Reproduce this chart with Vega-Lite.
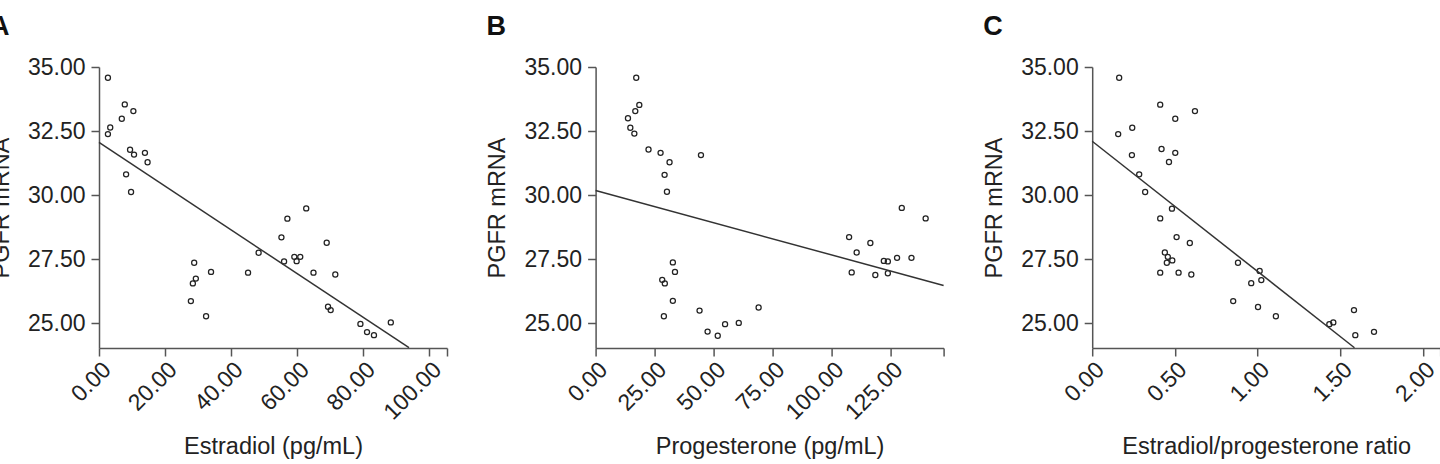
{
  "$schema": "https://vega.github.io/schema/vega-lite/v6.json",
  "padding": {"left": -12, "top": 13, "right": 0, "bottom": 0},
  "background": "white",
  "bounds": "flush",
  "spacing": 148.6,
  "config": {
    "font": "Liberation Sans",
    "view": {"stroke": null},
    "axis": {
      "grid": false,
      "domainColor": "#555",
      "tickColor": "#555",
      "domainWidth": 1.5,
      "tickWidth": 1.5,
      "tickSize": 8,
      "labelFont": "Liberation Sans",
      "labelFontSize": 23,
      "labelColor": "#222",
      "titleFont": "Liberation Sans",
      "titleFontSize": 23.5,
      "titleFontWeight": "normal",
      "titleColor": "#222",
      "labelOverlap": false,
      "labelBound": false,
      "labelFlush": false
    },
    "axisX": {"titleY": 105.7, "titleBaseline": "alphabetic"},
    "axisY": {"titleX": -91, "titleBaseline": "alphabetic", "labelPadding": 6},
    "title": {"font": "Liberation Sans", "fontSize": 27, "fontWeight": "bold", "color": "#111", "anchor": "start", "frame": "group"}
  },
  "datasets": {
    "A": [
      {"e2": 2.7, "pgfr": 34.58}, {"e2": 3.4, "pgfr": 32.64}, {"e2": 2.7, "pgfr": 32.38}, {"e2": 7.8, "pgfr": 33.54},
      {"e2": 6.9, "pgfr": 32.98}, {"e2": 10.4, "pgfr": 33.28}, {"e2": 9.4, "pgfr": 31.77}, {"e2": 10.6, "pgfr": 31.58},
      {"e2": 13.9, "pgfr": 31.65}, {"e2": 14.7, "pgfr": 31.28}, {"e2": 8.2, "pgfr": 30.81}, {"e2": 9.7, "pgfr": 30.12},
      {"e2": 62.7, "pgfr": 29.48}, {"e2": 57.0, "pgfr": 29.08}, {"e2": 55.2, "pgfr": 28.35}, {"e2": 68.9, "pgfr": 28.14},
      {"e2": 48.3, "pgfr": 27.75}, {"e2": 59.1, "pgfr": 27.59}, {"e2": 60.9, "pgfr": 27.59}, {"e2": 59.8, "pgfr": 27.42},
      {"e2": 56.0, "pgfr": 27.41}, {"e2": 28.8, "pgfr": 27.36}, {"e2": 33.9, "pgfr": 27.0}, {"e2": 45.1, "pgfr": 26.97},
      {"e2": 64.9, "pgfr": 26.97}, {"e2": 71.5, "pgfr": 26.90}, {"e2": 29.3, "pgfr": 26.74}, {"e2": 28.4, "pgfr": 26.55},
      {"e2": 27.8, "pgfr": 25.86}, {"e2": 32.4, "pgfr": 25.27}, {"e2": 69.3, "pgfr": 25.64}, {"e2": 70.1, "pgfr": 25.51},
      {"e2": 79.1, "pgfr": 24.97}, {"e2": 81.1, "pgfr": 24.65}, {"e2": 83.2, "pgfr": 24.53}, {"e2": 88.3, "pgfr": 25.03}
    ],
    "lineA": [{"e2": 0, "pgfr": 32.06}, {"e2": 93.8, "pgfr": 24.04}],
    "B": [
      {"p4": 17.2, "pgfr": 34.58}, {"p4": 18.5, "pgfr": 33.52}, {"p4": 16.8, "pgfr": 33.28}, {"p4": 13.7, "pgfr": 33.0},
      {"p4": 14.7, "pgfr": 32.63}, {"p4": 16.4, "pgfr": 32.40}, {"p4": 22.4, "pgfr": 31.78}, {"p4": 27.5, "pgfr": 31.65},
      {"p4": 44.6, "pgfr": 31.56}, {"p4": 31.3, "pgfr": 31.28}, {"p4": 29.2, "pgfr": 30.79}, {"p4": 30.2, "pgfr": 30.13},
      {"p4": 129.6, "pgfr": 29.5}, {"p4": 139.7, "pgfr": 29.09}, {"p4": 107.3, "pgfr": 28.36}, {"p4": 116.3, "pgfr": 28.13},
      {"p4": 110.5, "pgfr": 27.76}, {"p4": 127.6, "pgfr": 27.55}, {"p4": 133.7, "pgfr": 27.55}, {"p4": 122.0, "pgfr": 27.43},
      {"p4": 123.7, "pgfr": 27.41}, {"p4": 32.7, "pgfr": 27.37}, {"p4": 33.6, "pgfr": 27.0}, {"p4": 108.4, "pgfr": 26.98},
      {"p4": 123.7, "pgfr": 26.95}, {"p4": 118.4, "pgfr": 26.88}, {"p4": 28.2, "pgfr": 26.69}, {"p4": 29.3, "pgfr": 26.55},
      {"p4": 32.7, "pgfr": 25.87}, {"p4": 69.0, "pgfr": 25.61}, {"p4": 44.0, "pgfr": 25.49}, {"p4": 28.9, "pgfr": 25.27},
      {"p4": 60.6, "pgfr": 25.01}, {"p4": 54.8, "pgfr": 24.96}, {"p4": 47.4, "pgfr": 24.67}, {"p4": 51.7, "pgfr": 24.51}
    ],
    "lineB": [{"p4": 0, "pgfr": 30.18}, {"p4": 147.3, "pgfr": 26.47}],
    "C": [
      {"ratio": 0.163, "pgfr": 34.58}, {"ratio": 0.411, "pgfr": 33.53}, {"ratio": 0.621, "pgfr": 33.28}, {"ratio": 0.502, "pgfr": 32.98},
      {"ratio": 0.242, "pgfr": 32.63}, {"ratio": 0.157, "pgfr": 32.38}, {"ratio": 0.419, "pgfr": 31.80}, {"ratio": 0.502, "pgfr": 31.65},
      {"ratio": 0.240, "pgfr": 31.56}, {"ratio": 0.464, "pgfr": 31.29}, {"ratio": 0.284, "pgfr": 30.81}, {"ratio": 0.320, "pgfr": 30.12},
      {"ratio": 0.482, "pgfr": 29.47}, {"ratio": 0.411, "pgfr": 29.09}, {"ratio": 0.510, "pgfr": 28.36}, {"ratio": 0.590, "pgfr": 28.13},
      {"ratio": 0.439, "pgfr": 27.76}, {"ratio": 0.457, "pgfr": 27.59}, {"ratio": 0.484, "pgfr": 27.45}, {"ratio": 0.451, "pgfr": 27.36},
      {"ratio": 0.881, "pgfr": 27.36}, {"ratio": 0.411, "pgfr": 26.97}, {"ratio": 0.522, "pgfr": 26.97}, {"ratio": 0.599, "pgfr": 26.90},
      {"ratio": 1.012, "pgfr": 27.04}, {"ratio": 1.022, "pgfr": 26.68}, {"ratio": 0.961, "pgfr": 26.56}, {"ratio": 0.852, "pgfr": 25.86},
      {"ratio": 1.002, "pgfr": 25.63}, {"ratio": 1.110, "pgfr": 25.27}, {"ratio": 1.582, "pgfr": 25.51}, {"ratio": 1.433, "pgfr": 24.96},
      {"ratio": 1.457, "pgfr": 25.03}, {"ratio": 1.590, "pgfr": 24.53}, {"ratio": 1.703, "pgfr": 24.66}
    ],
    "lineC": [{"ratio": 0, "pgfr": 32.10}, {"ratio": 1.585, "pgfr": 24.04}]
  },
  "hconcat": [
    {
      "width": 348, "height": 281,
      "title": {"text": "A", "dx": -109, "offset": -6, "baseline": "alphabetic"},
      "encoding": {
        "x": {"field": "e2", "type": "quantitative", "title": "Estradiol (pg/mL)",
          "scale": {"domain": [0, 105.3], "nice": false, "zero": false},
          "axis": {"values": [0, 20, 40, 60, 80, 100, 105.3], "labelAngle": -45, "labelExpr": "datum.value > 101 ? '' : format(datum.value, '.2f')"}},
        "y": {"field": "pgfr", "type": "quantitative", "title": "PGFR mRNA",
          "scale": {"domain": [24.03, 35], "nice": false, "zero": false},
          "axis": {"values": [25, 27.5, 30, 32.5, 35], "format": ".2f"}}
      },
      "layer": [
        {"data": {"values": [{}]}, "mark": {"type": "rule", "color": "#555", "strokeWidth": 1.5},
          "encoding": {"x": {"datum": -2.7}, "x2": {"datum": 0}, "y": {"datum": 24.03}}},
        {"data": {"name": "A"}, "mark": {"type": "point", "shape": "circle", "filled": false, "size": 26, "strokeWidth": 1.25, "color": "#222", "opacity": 1}},
        {"data": {"name": "lineA"}, "mark": {"type": "line", "color": "#333", "strokeWidth": 1.5}},
        {"data": {"values": [{"label": "r"}]}, "mark": {"type": "text", "fontStyle": "italic", "fontSize": 22, "align": "left", "baseline": "middle", "color": "#222"},
          "encoding": {"x": {"datum": 64.9}, "y": {"datum": 33.66}, "text": {"field": "label"}}},
        {"data": {"values": [{"label": "= −0.782"}]}, "mark": {"type": "text", "fontSize": 22, "align": "left", "baseline": "middle", "dx": 14, "color": "#222"},
          "encoding": {"x": {"datum": 64.9}, "y": {"datum": 33.66}, "text": {"field": "label"}}}
      ]
    },
    {
      "width": 348, "height": 281,
      "title": {"text": "B", "dx": -109, "offset": -6, "baseline": "alphabetic"},
      "encoding": {
        "x": {"field": "p4", "type": "quantitative", "title": "Progesterone (pg/mL)",
          "scale": {"domain": [0, 147.3], "nice": false, "zero": false},
          "axis": {"values": [0, 25, 50, 75, 100, 125, 147.3], "labelAngle": -45, "labelExpr": "datum.value > 130 ? '' : format(datum.value, '.2f')"}},
        "y": {"field": "pgfr", "type": "quantitative", "title": "PGFR mRNA",
          "scale": {"domain": [24.03, 35], "nice": false, "zero": false},
          "axis": {"values": [25, 27.5, 30, 32.5, 35], "format": ".2f"}}
      },
      "layer": [
        {"data": {"values": [{}]}, "mark": {"type": "rule", "color": "#555", "strokeWidth": 1.5},
          "encoding": {"x": {"datum": -3.8}, "x2": {"datum": 0}, "y": {"datum": 24.03}}},
        {"data": {"name": "B"}, "mark": {"type": "point", "shape": "circle", "filled": false, "size": 26, "strokeWidth": 1.25, "color": "#222", "opacity": 1}},
        {"data": {"name": "lineB"}, "mark": {"type": "line", "color": "#333", "strokeWidth": 1.5}},
        {"data": {"values": [{"label": "r"}]}, "mark": {"type": "text", "fontStyle": "italic", "fontSize": 22, "align": "left", "baseline": "middle", "color": "#222"},
          "encoding": {"x": {"datum": 90.6}, "y": {"datum": 33.66}, "text": {"field": "label"}}},
        {"data": {"values": [{"label": "= −0.430"}]}, "mark": {"type": "text", "fontSize": 22, "align": "left", "baseline": "middle", "dx": 14, "color": "#222"},
          "encoding": {"x": {"datum": 90.6}, "y": {"datum": 33.66}, "text": {"field": "label"}}}
      ]
    },
    {
      "width": 348, "height": 281,
      "title": {"text": "C", "dx": -109, "offset": -6, "baseline": "alphabetic"},
      "encoding": {
        "x": {"field": "ratio", "type": "quantitative", "title": "Estradiol/progesterone ratio",
          "scale": {"domain": [0, 2.103], "nice": false, "zero": false},
          "axis": {"values": [0, 0.5, 1, 1.5, 2, 2.103], "labelAngle": -45, "labelExpr": "datum.value > 2.05 ? '' : format(datum.value, '.2f')"}},
        "y": {"field": "pgfr", "type": "quantitative", "title": "PGFR mRNA",
          "scale": {"domain": [24.03, 35], "nice": false, "zero": false},
          "axis": {"values": [25, 27.5, 30, 32.5, 35], "format": ".2f"}}
      },
      "layer": [
        {"data": {"values": [{}]}, "mark": {"type": "rule", "color": "#555", "strokeWidth": 1.5},
          "encoding": {"x": {"datum": -0.054}, "x2": {"datum": 0}, "y": {"datum": 24.03}}},
        {"data": {"name": "C"}, "mark": {"type": "point", "shape": "circle", "filled": false, "size": 26, "strokeWidth": 1.25, "color": "#222", "opacity": 1}},
        {"data": {"name": "lineC"}, "mark": {"type": "line", "color": "#333", "strokeWidth": 1.5}},
        {"data": {"values": [{"label": "r"}]}, "mark": {"type": "text", "fontStyle": "italic", "fontSize": 22, "align": "left", "baseline": "middle", "color": "#222"},
          "encoding": {"x": {"datum": 1.293}, "y": {"datum": 33.66}, "text": {"field": "label"}}},
        {"data": {"values": [{"label": "= −0.793"}]}, "mark": {"type": "text", "fontSize": 22, "align": "left", "baseline": "middle", "dx": 14, "color": "#222"},
          "encoding": {"x": {"datum": 1.293}, "y": {"datum": 33.66}, "text": {"field": "label"}}}
      ]
    }
  ]
}
